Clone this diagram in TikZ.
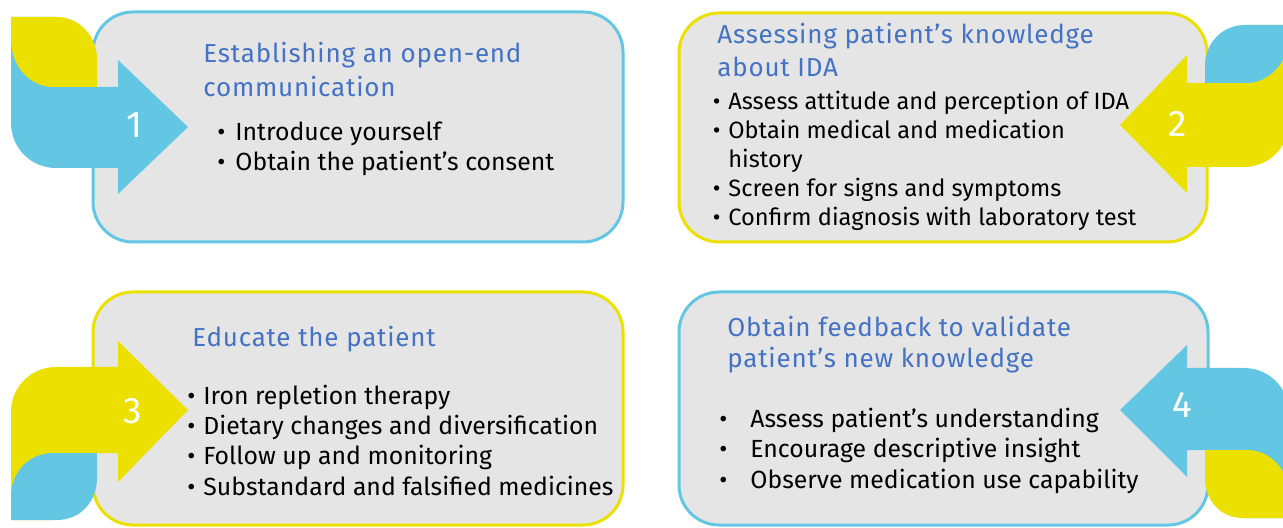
\documentclass[tikz,border=0pt]{standalone}
\usepackage{fontspec}
\setmainfont{Fira Sans}
\newfontfamily\headfont[LetterSpace=3]{Fira Sans}
\usepackage{tikz}

\definecolor{leafblue}{RGB}{99,199,227}
\definecolor{leafyellow}{RGB}{236,224,0}
\definecolor{boxgrey}{RGB}{229,229,229}
\definecolor{headblue}{RGB}{68,114,196}

\newcommand{\bul}[1]{\llap{\textbullet\hspace{#1}}}

\tikzset{
  panel/.style={fill=boxgrey, draw=#1, line width=1.5pt, rounded corners=20pt},
  head/.style={anchor=base west, inner sep=0pt, text=headblue, font=\headfont\fontsize{13}{15}\selectfont},
  item/.style={anchor=base west, inner sep=0pt, font=\fontsize{12.4}{15}\selectfont},
  small item/.style={item, font=\fontsize{11.8}{14}\selectfont},
  num/.style={text=white, inner sep=0pt, font=\fontsize{18.5}{20}\selectfont},
}

\begin{document}
\begin{tikzpicture}[x=0.5pt,y=-0.5pt]
\useasboundingbox (0,0) rectangle (1283,528);
\clip (0,0) rectangle (1283,528);

% the four boxes
\draw[panel=leafblue] (93,12) rectangle (623,242);
\draw[panel=leafyellow] (679,13) rectangle (1207,242);
\draw[panel=leafyellow] (93,292) rectangle (623,525);
\draw[panel=leafblue] (679,292) rectangle (1208,525);

% step 1 : arrow to the right, yellow leaf on top
\fill[leafblue] (11,17) -- (53,17) -- (53,87) -- (118,87) -- (118,60) -- (188,127)
  -- (118,194) -- (118,168) -- (56,168) .. controls (31,168) and (11,148) .. (11,123) -- cycle;
\fill[leafyellow] (11,17) -- (57,17) .. controls (79,17) and (97,36) .. (97,59) -- (97,87)
  -- (53,87) .. controls (30,87) and (11,66) .. (11,40) -- cycle;
\node[num] (n1) at (135,125) {1};

% step 2 : arrow to the left, blue leaf on top
\fill[leafyellow] (1289,25) -- (1247,25) -- (1247,83) -- (1187,83) -- (1187,55) -- (1120,125)
  -- (1187,193) -- (1187,167) -- (1244,167) .. controls (1269,167) and (1289,147) .. (1289,122) -- cycle;
\fill[leafblue] (1289,25) -- (1245,25) .. controls (1222,25) and (1205,43) .. (1205,66) -- (1205,83)
  -- (1247,83) .. controls (1270,83) and (1289,60) .. (1289,38) -- cycle;
\node[num] (n2) at (1178,124) {2};

% step 3 : arrow to the right, blue leaf below
\fill[leafyellow] (11,520) -- (53,520) -- (53,453) -- (118,453) -- (118,482) -- (188,410)
  -- (118,341) -- (118,367) -- (56,367) .. controls (31,367) and (11,387) .. (11,412) -- cycle;
\fill[leafblue] (11,520) -- (57,520) .. controls (80,520) and (97,502) .. (97,478) -- (97,453)
  -- (53,453) .. controls (30,453) and (11,471) .. (11,497) -- cycle;
\node[num] (n3) at (133,411) {3};

% step 4 : arrow to the left, yellow leaf below
\fill[leafblue] (1289,518) -- (1247,518) -- (1247,450) -- (1187,450) -- (1187,477) -- (1120,410)
  -- (1187,345) -- (1187,368) -- (1244,368) .. controls (1269,368) and (1289,388) .. (1289,413) -- cycle;
\fill[leafyellow] (1289,518) -- (1243,518) .. controls (1220,518) and (1205,500) .. (1205,478) -- (1205,450)
  -- (1247,450) .. controls (1270,450) and (1289,470) .. (1289,495) -- cycle;
\node[num] (n4) at (1182,405) {4};

% texts of box 1
\node[head] (h1a) at (203,63) {Establishing an open-end};
\node[head] (h1b) at (203,97) {communication};
\foreach \t [count=\i] in {Introduce yourself, Obtain the patient’s consent}
  \node[item] (one-\i) at (235,{141+30*(\i-1)}) {\bul{5pt}\t};

% texts of box 2
\node[head] (h2a) at (717,44) {Assessing patient’s knowledge};
\node[head] (h2b) at (717,77) {about IDA};
\foreach \y/\t [count=\i] in {110/Assess attitude and perception of IDA,
    139/Obtain medical and medication, 197/Screen for signs and symptoms,
    226/Confirm diagnosis with laboratory test}
  \node[small item] (two-\i) at (728,\y) {\bul{4pt}\t};
\node[small item] (two-h) at (728,168) {history};

% texts of box 3
\node[head] (h3) at (192,347) {Educate the patient};
\foreach \t [count=\i] in {Iron repletion therapy, Dietary changes and diversification,
    Follow up and monitoring, Substandard and falsified medicines}
  \node[item] (three-\i) at (203,{405+30*(\i-1)}) {\bul{4pt}\t};

% texts of box 4
\node[head] (h4a) at (727,337) {Obtain feedback to validate};
\node[head] (h4b) at (727,368) {patient’s new knowledge};
\foreach \t [count=\i] in {Assess patient’s understanding, Encourage descriptive insight,
    Observe medication use capability}
  \node[item] (four-\i) at (750,{428+30*(\i-1)}) {\bul{11.5pt}\t};
\end{tikzpicture}
\end{document}
